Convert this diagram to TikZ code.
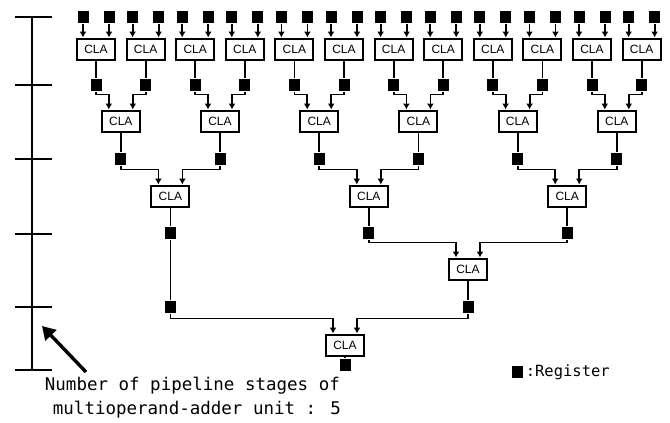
\documentclass[tikz,border=0pt]{standalone}
\usepackage{fontspec}
\setsansfont{Liberation Sans}
\newfontfamily\notefont{DejaVu Sans Mono}
\usetikzlibrary{arrows.meta,calc}

\tikzset{
  cla/.style={draw,line width=2pt,minimum width=38pt,minimum height=21pt,inner sep=0pt,
    font=\sffamily\fontsize{12}{12}\selectfont},
  reg/.style={fill,minimum width=11pt,minimum height=12pt,inner sep=0pt},
  feed/.style={-{Latex[length=6pt,width=7pt]}},
  note/.style={anchor=base west,inner sep=0pt,font=\notefont\fontsize{17.5}{20}\selectfont}
}

\begin{document}
\begin{tikzpicture}[x=1pt,y=-1pt,line width=1.8pt]
  \useasboundingbox (0,0) rectangle (670,423);

  % 级数坐标轴
  \draw (32,17) -- (32,370);
  \foreach \y in {17,85,159,234,307,370} \draw (15,\y) -- (52,\y);

  % 第一级 CLA 与输入寄存器
  \foreach \i in {1,...,12} {
    \pgfmathsetmacro{\xa}{96+49.6*(\i-1)}
    \node[cla] (A\i) at (\xa,49) {CLA};
    \node[reg] (P\i) at (\xa-13,17) {};
    \node[reg] (Q\i) at (\xa+13,17) {};
    \node[reg] (RA\i) at (\xa,85) {};
    \draw[feed] (P\i) -- (P\i |- A\i.north);
    \draw[feed] (Q\i) -- (Q\i |- A\i.north);
    \draw (A\i) -- (RA\i);
  }

  % 第二级
  \foreach \j in {1,...,6} {
    \pgfmathtruncatemacro{\ja}{2*\j-1}
    \pgfmathtruncatemacro{\jb}{2*\j}
    \node[cla] (B\j) at ($(RA\ja)!0.5!(RA\jb)+(0,36)$) {CLA};
    \node[reg] (RB\j) at ($(B\j)+(0,38)$) {};
    \draw[feed] (RA\ja) |- ([xshift=-12pt,yshift=15pt]B\j.north) -- ([xshift=-12pt]B\j.north);
    \draw[feed] (RA\jb) |- ([xshift=12pt,yshift=15pt]B\j.north) -- ([xshift=12pt]B\j.north);
    \draw (B\j) -- (RB\j);
  }

  % 第三级
  \foreach \k in {1,2,3} {
    \pgfmathtruncatemacro{\ka}{2*\k-1}
    \pgfmathtruncatemacro{\kb}{2*\k}
    \node[cla] (C\k) at ($(RB\ka)!0.5!(RB\kb)+(0,37)$) {CLA};
    \node[reg] (RC\k) at ($(C\k)+(0,37)$) {};
    \draw[feed] (RB\ka) |- ([xshift=-12pt,yshift=15pt]C\k.north) -- ([xshift=-12pt]C\k.north);
    \draw[feed] (RB\kb) |- ([xshift=12pt,yshift=15pt]C\k.north) -- ([xshift=12pt]C\k.north);
    \draw (C\k) -- (RC\k);
  }

  % 第四级与旁路寄存器
  \node[cla] (D) at ($(RC2)!0.5!(RC3)+(0,36)$) {CLA};
  \node[reg] (RD) at ($(D)+(0,38)$) {};
  \node[reg] (RE) at ($(RC1)+(0,74)$) {};
  \draw[feed] (RC2) |- ([xshift=-12pt,yshift=15pt]D.north) -- ([xshift=-12pt]D.north);
  \draw[feed] (RC3) |- ([xshift=12pt,yshift=15pt]D.north) -- ([xshift=12pt]D.north);
  \draw (D) -- (RD);
  \draw (RC1) -- (RE);

  % 最后一级
  \node[cla] (F) at (345,345) {CLA};
  \node[reg] (RF) at (345,365) {};
  \draw[feed] (RE) |- ([xshift=-12pt,yshift=15pt]F.north) -- ([xshift=-12pt]F.north);
  \draw[feed] (RD) |- ([xshift=12pt,yshift=15pt]F.north) -- ([xshift=12pt]F.north);
  \draw (F) -- (RF);

  % 标注
  \coordinate (tail) at (86,372);
  \coordinate (tip) at (42,326);
  \draw[line width=3.4pt,-{Triangle[length=13pt,width=15pt]}] (tail) -- (tip);
  \node[note] (line1) at (44,390) {Number of pipeline stages of};
  \node[note] (line2) at (52,414) {multioperand-adder unit : 5};
  \node[reg] (key) at (517.5,372) {};
  \node[anchor=west,inner sep=1pt,font=\notefont\fontsize{15.5}{16}\selectfont] (keytext) at (key.east) {:Register};
\end{tikzpicture}
\end{document}
